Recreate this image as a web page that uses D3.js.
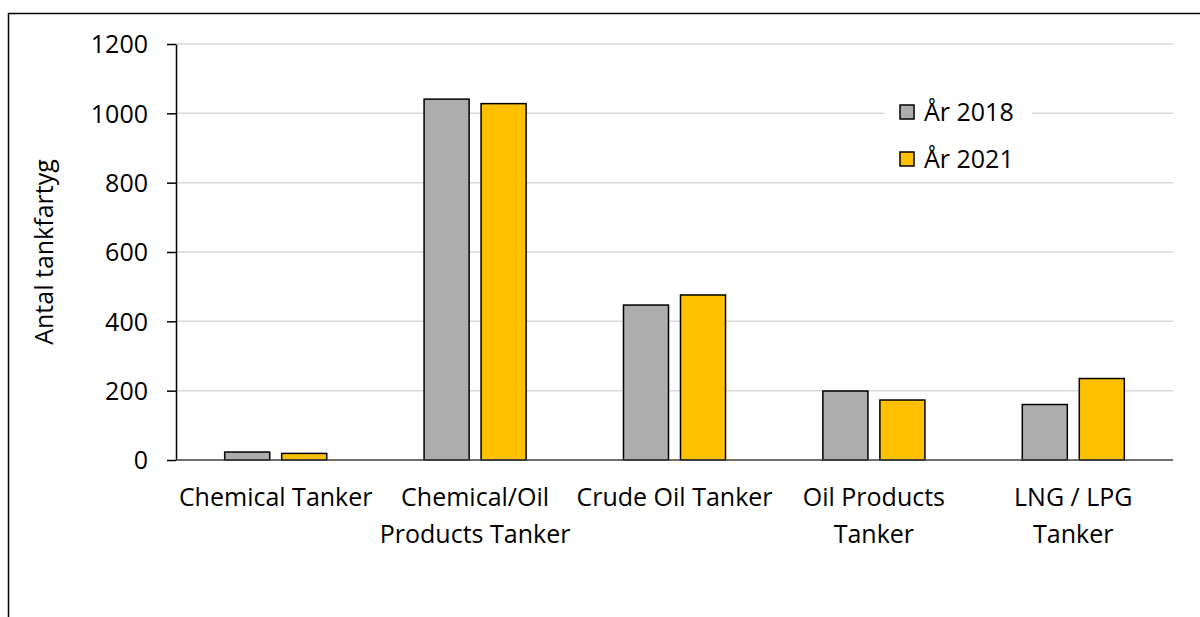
<!DOCTYPE html>
<html>
<head>
<meta charset="utf-8">
<script src="https://cdn.jsdelivr.net/npm/d3@7"></script>
<style>
  body { margin: 0; background: #fff; }
  svg text { font-family: "Open Sans", "Noto Sans", sans-serif; fill: #000; }
</style>
</head>
<body>
<div class="chart"></div>
<script>
const categories = ['Chemical Tanker', 'Chemical/Oil Products Tanker', 'Crude Oil Tanker', 'Oil Products Tanker', 'LNG / LPG Tanker']
const categoryLines = [['Chemical Tanker'], ['Chemical/Oil', 'Products Tanker'], ['Crude Oil Tanker'], ['Oil Products', 'Tanker'], ['LNG / LPG', 'Tanker']]
const seriesNames = ['År 2018', 'År 2021']
const values2018 = [23, 1041, 447, 199, 160]
const values2021 = [19, 1028, 476, 173, 235]
const yTicks = [0, 200, 400, 600, 800, 1000, 1200]
const colors = ['#adadad', '#ffc000']

const width = 1200, height = 617
const plotLeft = 176, plotRight = 1173, plotTop = 44, plotBottom = 460
const fontSize = '25px'

const svg = d3.select('.chart')
  .append('svg')
  .attr('width', width)
  .attr('height', height)

// chart frame
svg.append('rect')
  .attr('x', 8.5).attr('y', 13.5)
  .attr('width', 1300).attr('height', 700)
  .attr('fill', 'none')
  .attr('stroke', '#000')
  .attr('stroke-width', 1.5)

const x = d3.scaleBand().domain(categories).range([plotLeft, plotRight]).padding(0)
const xSub = d3.scaleBand().domain(seriesNames).range([0, x.bandwidth()])
  .paddingInner(0.21).paddingOuter(0.854)
const y = d3.scaleLinear().domain([0, 1200]).range([plotBottom, plotTop])

// gridlines
svg.append('g')
  .selectAll('line')
  .data(yTicks.filter(d => d > 0))
  .enter()
  .append('line')
    .attr('x1', plotLeft).attr('x2', plotRight)
    .attr('y1', d => y(d)).attr('y2', d => y(d))
    .attr('stroke', '#d9d9d9')
    .attr('stroke-width', 1.5)

// bars
const rows = categories.map((c, i) => ({ cat: c, vals: [values2018[i], values2021[i]] }))
svg.append('g')
  .selectAll('g')
  .data(rows)
  .enter()
  .append('g')
    .attr('transform', d => `translate(${x(d.cat)},0)`)
  .selectAll('rect')
  .data(d => d.vals.map((v, j) => ({ key: seriesNames[j], v: v, j: j })))
  .enter()
  .append('rect')
    .attr('x', d => xSub(d.key))
    .attr('y', d => y(d.v))
    .attr('width', xSub.bandwidth())
    .attr('height', d => y(0) - y(d.v))
    .attr('fill', d => colors[d.j])
    .attr('stroke', '#000')
    .attr('stroke-width', 1.5)

// y axis
const yAxis = svg.append('g')
  .attr('transform', `translate(${plotLeft},0)`)
  .call(d3.axisLeft(y).tickValues(yTicks).tickFormat(d3.format('d'))
    .tickSize(9).tickSizeOuter(0).tickPadding(19))
yAxis.select('.domain').attr('stroke', '#000').attr('stroke-width', 1.5)
yAxis.selectAll('.tick line').attr('stroke', '#000').attr('stroke-width', 1.5)
yAxis.selectAll('.tick text').style('font-size', fontSize).attr('dy', '0.35em')

// baseline
svg.append('line')
  .attr('x1', plotLeft).attr('x2', plotRight)
  .attr('y1', y(0)).attr('y2', y(0))
  .attr('stroke', '#404040')
  .attr('stroke-width', 1.5)

// category labels
const lab = svg.append('g')
  .selectAll('text')
  .data(categories)
  .enter()
  .append('text')
    .attr('x', d => x(d) + x.bandwidth() / 2)
    .attr('y', 506)
    .attr('text-anchor', 'middle')
    .style('font-size', fontSize)
lab.selectAll('tspan')
  .data((d, i) => categoryLines[i])
  .enter()
  .append('tspan')
    .attr('x', function () { return d3.select(this.parentNode).attr('x') })
    .attr('dy', (d, i) => i === 0 ? 0 : 37)
    .text(d => d)

// y title
svg.append('text')
  .attr('transform', `translate(53,${(plotTop + plotBottom) / 2}) rotate(-90)`)
  .attr('text-anchor', 'middle')
  .style('font-size', fontSize)
  .text('Antal tankfartyg')

// legend
svg.append('rect')
  .attr('x', 884).attr('y', 94).attr('width', 148).attr('height', 84)
  .attr('fill', '#fff')
seriesNames.forEach((s, i) => {
  const ly = 112 + i * 47
  svg.append('rect')
    .attr('x', 900).attr('y', ly - 7).attr('width', 14).attr('height', 14)
    .attr('fill', colors[i]).attr('stroke', '#000').attr('stroke-width', 1.5)
  svg.append('text')
    .attr('x', 924).attr('y', ly).attr('dy', '0.35em')
    .style('font-size', fontSize)
    .text(s)
})
</script>
</body>
</html>
